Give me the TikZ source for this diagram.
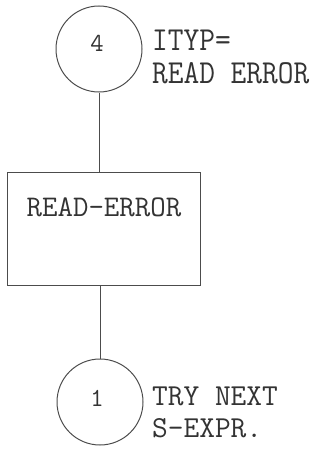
\documentclass[tikz,border=0pt]{standalone}
\begin{document}
\begin{tikzpicture}[x=1pt,y=-1pt,
  ink/.style={draw=black!70,line width=1pt},
  conn/.style={circle,ink,minimum size=86pt,inner sep=0pt},
  num/.style={inner sep=0pt,text=black!80,font=\ttfamily\fontsize{26}{26}\selectfont},
  proc/.style={rectangle,ink,minimum width=193pt,minimum height=113pt,inner sep=0pt},
  lbl/.style={anchor=west,inner sep=0pt,text=black!80,font=\ttfamily\fontsize{30.5}{30.5}\selectfont},
  ptxt/.style={inner sep=0pt,text=black!80,font=\ttfamily\fontsize{30}{30}\selectfont}]
\useasboundingbox (0,0) rectangle (320,455);
\node[conn] (c4) at (99,49) {};
\node[num] (n4) at (97,43) {4};
\node[proc] (rd) at (103.5,228.5) {};
\node[ptxt] (rdt) at (104,207) {READ-ERROR};
\node[conn] (c1) at (100,402) {};
\node[num] (n1) at (97,398) {1};
\node[lbl] (l1) at (152,40) {\scalebox{1}[1.1]{ITYP=}};
\node[lbl] (l2) at (152,73) {\scalebox{1}[1.1]{READ ERROR}};
\node[lbl] (l3) at (152,396) {TRY NEXT};
\node[lbl] (l4) at (152,428) {S-EXPR.};
\draw[ink] (c4.south) -- (c4.south |- rd.north);
\draw[ink] (c1.north |- rd.south) -- (c1.north);
\end{tikzpicture}
\end{document}
